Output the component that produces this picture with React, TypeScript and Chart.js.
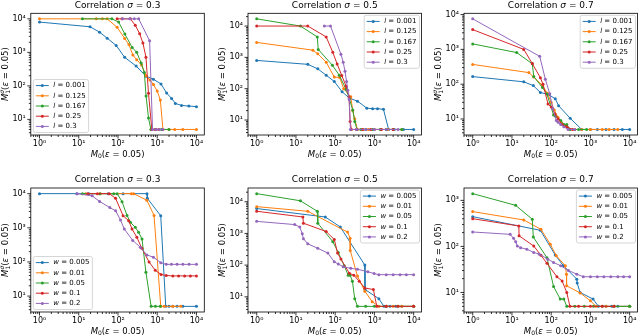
import React, { useEffect, useRef } from "react";
import { Chart, registerables } from "chart.js";
Chart.register(...registerables);

const COLORS = ["#1f77b4", "#ff7f0e", "#2ca02c", "#d62728", "#9467bd"];
const SIGMAS = ["0.3", "0.5", "0.7"];
const L_VALUES = ["0.001", "0.125", "0.167", "0.25", "0.3"];
const W_VALUES = ["0.005", "0.01", "0.05", "0.1", "0.2"];
const SUPERSCRIPTS = ["⁰", "¹", "²", "³", "⁴", "⁵", "⁶"];

// ---- Panel A: sigma 0.3, l ----
const A1_X = [1, 19.4, 34, 53, 90, 148, 290, 516, 800, 1250, 1740, 2330, 2900, 4170, 6400, 10000];
const A1_Y = [8000, 5800, 4000, 2650, 1600, 710, 390, 195, 158, 114, 61, 42, 30, 26, 25, 24];
const A2_X = [1, 28, 40, 53, 95, 148, 190, 240, 300, 400, 520, 650, 800, 1000, 1200, 1400, 2000, 2800, 4500, 10000];
const A2_Y = [10000, 10000, 10000, 10000, 5600, 2600, 1700, 830, 600, 420, 200, 150, 110, 70, 38, 5, 5, 5, 5, 5];
const A3_X = [12.4, 70, 104, 150, 230, 300, 390, 470, 520, 600, 690, 900, 1300, 2000];
const A3_Y = [10000, 10000, 8000, 3500, 1400, 1000, 480, 250, 50, 11, 5, 5, 5, 5];
const A4_X = [95, 127, 207, 276, 357, 432, 516, 600, 730, 900, 1100];
const A4_Y = [10000, 10000, 10000, 6400, 3600, 1900, 720, 60, 5, 5, 5];
const A5_X = [130, 200, 260, 337, 640, 760, 950, 1150, 1400];
const A5_Y = [10000, 10000, 10000, 10000, 2200, 5, 5, 5, 5];

// ---- Panel B: sigma 0.5, l ----
const B1_X = [1, 20, 36, 59, 95, 150, 230, 370, 640, 900, 1200, 1700, 2300, 3200, 5500, 10000];
const B1_Y = [800, 600, 430, 270, 170, 80, 50, 40, 24, 23, 23, 22, 5, 5, 5, 5];
const B2_X = [1, 27, 36, 59, 95, 130, 165, 250, 280, 315, 370, 500, 700, 1000, 1500, 2200, 3000, 5000];
const B2_Y = [3000, 1700, 1300, 700, 235, 230, 100, 55, 20, 11, 5, 5, 5, 5, 5, 5, 5, 5];
const B3_X = [1, 13, 35, 37, 85, 127, 190, 230, 280, 315, 360, 450, 600, 900, 1400, 2000, 3000, 5000];
const B3_Y = [17000, 10000, 4500, 1800, 560, 270, 95, 47, 21, 9, 5, 5, 5, 5, 5, 5, 5, 5];
const B4_X = [1, 20, 59, 87, 112, 147, 190, 225, 240, 260, 350, 500, 800, 1500, 3000];
const B4_Y = [10000, 10000, 4500, 1450, 620, 265, 120, 55, 9, 5, 5, 5, 5, 5, 5];
const B5_X = [53, 76, 140, 160, 178, 195, 210, 228, 245, 350, 600, 1000, 2000, 4000];
const B5_Y = [10000, 10000, 1270, 700, 360, 170, 90, 45, 5, 5, 5, 5, 5, 5];

// ---- Panel C: sigma 0.7, l ----
const C1_X = [1, 20, 35, 53, 87, 127, 155, 305, 600, 1000, 1500, 2500, 4000, 6500, 10000];
const C1_Y = [165, 117, 91, 58, 50, 38, 24, 10.5, 5, 5, 5, 5, 5, 5, 5];
const C2_X = [1, 27, 36, 58, 80, 100, 120, 150, 180, 220, 300, 400, 600, 1000, 2000, 3000, 5000];
const C2_Y = [370, 215, 160, 95, 55, 30, 18, 11, 8, 6.5, 5, 5, 5, 5, 5, 5, 5];
const C3_X = [1, 13.2, 33, 36, 60, 78, 115, 130, 175, 210, 250, 300, 500, 800];
const C3_Y = [1440, 810, 385, 165, 80, 52, 13, 12, 9, 7, 7, 5, 5, 5];
const C4_X = [1, 20, 33, 53, 62, 83, 100, 125, 150, 190, 250, 350];
const C4_Y = [3700, 1000, 390, 154, 100, 27, 22, 14, 10, 7, 6, 5];
const C5_X = [1, 51, 71, 92, 110, 135, 150, 175, 210, 270, 400];
const C5_Y = [7550, 630, 139, 53, 20, 9, 8, 7, 6, 5, 5];

// ---- Panel D: sigma 0.3, w ----
const D1_X = [1, 9, 18, 56, 135, 550, 560, 1230, 1650, 2000, 2500, 3200, 4500, 10000];
const D1_Y = [10000, 10000, 10000, 10000, 10000, 10000, 7300, 2250, 5, 5, 5, 5, 5, 5];
const D2_X = [15, 35, 220, 250, 545, 830, 1230, 1500, 2500, 4000];
const D2_Y = [10000, 10000, 10000, 10000, 6400, 2300, 5, 5, 5, 5];
const D3_X = [12.4, 35, 78, 95, 127, 170, 207, 276, 335, 410, 515, 700, 900, 1200];
const D3_Y = [10000, 10000, 10000, 10000, 5800, 2300, 1450, 1030, 740, 470, 50, 5, 5, 5];
const D4_X = [17, 30, 60, 87, 135, 187, 228, 303, 406, 620, 890, 1250, 1700, 2500, 3500, 5000, 7000, 10000];
const D4_Y = [10000, 10000, 10000, 7300, 2250, 1620, 920, 525, 250, 100, 57, 43, 40, 39, 39, 39, 39, 39];
const D5_X = [9, 22, 34, 62, 87, 116, 145, 238, 370, 545, 800, 1230, 1700, 2300, 3200, 4500, 6500, 10000];
const D5_Y = [10000, 8600, 5900, 3900, 3150, 1700, 920, 425, 270, 160, 138, 95, 85, 85, 85, 85, 85, 85];

// ---- Panel E: sigma 0.5, w ----
const E1_X = [1, 56, 135, 570, 575, 1300, 1750, 2500, 3500, 5000, 10000];
const E1_Y = [6100, 3300, 1600, 100, 17, 8.7, 5, 5, 5, 5, 5];
const E2_X = [1, 20, 207, 240, 242, 370, 570, 880, 1300, 2000, 3000, 5000, 10000];
const E2_Y = [7000, 5000, 1100, 710, 290, 45, 15, 7, 5, 5, 5, 5, 5];
const E3_X = [1, 13, 35, 36, 87, 120, 170, 215, 240, 275, 315, 370, 600, 1000, 2000, 4000, 10000];
const E3_Y = [18000, 10700, 5000, 2100, 550, 250, 95, 48, 48, 31, 8.7, 5, 5, 5, 5, 5, 5];
const E4_X = [1, 15, 15.5, 59, 95, 115, 140, 230, 300, 410, 570, 940, 1150, 2000, 4000, 10000];
const E4_Y = [5000, 3300, 2100, 1150, 640, 240, 155, 55, 48, 31, 19, 17, 5, 5, 5, 5];
const E5_X = [1, 9.3, 12.5, 14.5, 15.5, 20, 36, 65, 95, 120, 160, 250, 370, 680, 980, 1300, 2000, 3000, 4500, 6500, 10000];
const E5_Y = [2400, 1900, 1600, 970, 680, 470, 340, 240, 127, 108, 89, 79, 74, 62, 54, 50, 50, 50, 50, 50, 50];

// ---- Panel F: sigma 0.7, w ----
const F1_X = [1, 53, 127, 205, 450, 460, 545, 1170, 1600, 2500, 3500, 5000, 10000];
const F1_Y = [443, 224, 65, 38, 19.5, 16, 10, 7.2, 5, 5, 5, 5, 5];
const F2_X = [1, 20, 55, 95, 135, 230, 245, 247, 545, 1000, 1400, 2500, 4000, 10000];
const F2_Y = [570, 375, 235, 112, 63, 38, 25, 14, 9.8, 6.6, 5, 5, 5, 5];
const F3_X = [1, 12.4, 33, 35, 78, 115, 170, 210, 250, 400, 700, 1200, 2000, 4000, 10000];
const F3_Y = [1400, 780, 390, 160, 57, 13.5, 7.2, 7.2, 5, 5, 5, 5, 5, 5, 5];
const F4_X = [1, 15, 15.2, 36, 55, 78, 140, 190, 250, 300, 500, 1000, 2000, 4000];
const F4_Y = [400, 278, 170, 102, 64, 43, 22, 17.8, 10, 5, 5, 5, 5, 5];
const F5_X = [1, 9, 11, 12.5, 13.7, 16.6, 24, 36, 50, 82, 115, 175, 275, 450, 660, 1000, 1500, 2200, 3300, 5000, 7000, 10000];
const F5_Y = [206, 183, 150, 126, 102, 94, 87, 74, 68, 53, 45, 38, 30, 25, 22, 22, 22, 22, 22, 22, 22, 22];

const FONT = '"DejaVu Sans", sans-serif';

type Panel = {
  sigma: string;
  varName: string;
  values: string[];
  xs: number[][];
  ys: number[][];
  legend: "ll" | "ur";
  canvas: { x: number; y: number; w: number; h: number };
  area: { l: number; t: number; r: number; b: number };
};

const TOP_ROW = { t: 13.3, b: 135 };
const BOT_ROW = { t: 188, b: 312 };
const COLS = [
  { cx: 0, cw: 215, l: 30.8, r: 204.3 },
  { cx: 215, cw: 213, l: 248, r: 421.5 },
  { cx: 428, cw: 212, l: 464, r: 637.5 },
];

function makePanel(row: number, col: number, varName: string, values: string[], xs: number[][], ys: number[][], legend: "ll" | "ur"): Panel {
  const R = row === 0 ? TOP_ROW : BOT_ROW;
  const C = COLS[col];
  return {
    sigma: SIGMAS[col],
    varName,
    values,
    xs,
    ys,
    legend,
    canvas: { x: C.cx, y: row === 0 ? 0 : 168, w: C.cw, h: row === 0 ? 168 : 167 },
    area: { l: C.l, t: R.t, r: C.r, b: R.b },
  };
}

const PANELS: Panel[] = [
  makePanel(0, 0, "l", L_VALUES, [A1_X, A2_X, A3_X, A4_X, A5_X], [A1_Y, A2_Y, A3_Y, A4_Y, A5_Y], "ll"),
  makePanel(0, 1, "l", L_VALUES, [B1_X, B2_X, B3_X, B4_X, B5_X], [B1_Y, B2_Y, B3_Y, B4_Y, B5_Y], "ur"),
  makePanel(0, 2, "l", L_VALUES, [C1_X, C2_X, C3_X, C4_X, C5_X], [C1_Y, C2_Y, C3_Y, C4_Y, C5_Y], "ur"),
  makePanel(1, 0, "w", W_VALUES, [D1_X, D2_X, D3_X, D4_X, D5_X], [D1_Y, D2_Y, D3_Y, D4_Y, D5_Y], "ll"),
  makePanel(1, 1, "w", W_VALUES, [E1_X, E2_X, E3_X, E4_X, E5_X], [E1_Y, E2_Y, E3_Y, E4_Y, E5_Y], "ur"),
  makePanel(1, 2, "w", W_VALUES, [F1_X, F2_X, F3_X, F4_X, F5_X], [F1_Y, F2_Y, F3_Y, F4_Y, F5_Y], "ur"),
];

const Y_AXIS_W = 24;
const X_AXIS_H = 16;

function logRange(vals: number[]) {
  const lo = Math.log10(Math.min(...vals));
  const hi = Math.log10(Math.max(...vals));
  const m = 0.05 * (hi - lo);
  return { min: Math.pow(10, lo - m), max: Math.pow(10, hi + m) };
}

function isPow10(v: number) {
  const l = Math.log10(v);
  return Math.abs(l - Math.round(l)) < 1e-9;
}

function logTicks(min: number, max: number) {
  const out: { value: number; major: boolean }[] = [];
  const k0 = Math.floor(Math.log10(min));
  const k1 = Math.ceil(Math.log10(max));
  for (let k = k0; k <= k1; k++) {
    for (let d = 1; d <= 9; d++) {
      const v = d * Math.pow(10, k);
      if (v >= min && v <= max) out.push({ value: v, major: d === 1 });
    }
  }
  return out;
}

function tickLabel(v: number) {
  if (!isPow10(v)) return "";
  const e = Math.round(Math.log10(v));
  return "10" + (e >= 0 ? SUPERSCRIPTS[e] : "⁻" + SUPERSCRIPTS[-e]);
}

type Part = { t: string; it?: boolean; s: number; dy?: number; adv?: boolean };

function fontOf(p: Part) {
  return `${p.it ? "italic " : ""}${p.s}px ${FONT}`;
}

function richWidth(ctx: CanvasRenderingContext2D, parts: Part[]) {
  let w = 0;
  let pending = 0;
  for (const p of parts) {
    ctx.font = fontOf(p);
    const pw = ctx.measureText(p.t).width;
    if (p.adv === false) pending = Math.max(pending, pw);
    else {
      w += Math.max(pw, pending);
      pending = 0;
    }
  }
  return w + pending;
}

function drawRich(ctx: CanvasRenderingContext2D, parts: Part[], x0: number, cy: number, align: "center" | "left") {
  const w = richWidth(ctx, parts);
  let x = align === "center" ? x0 - w / 2 : x0;
  let pending = 0;
  ctx.textAlign = "left";
  ctx.textBaseline = "middle";
  for (const p of parts) {
    ctx.font = fontOf(p);
    ctx.fillText(p.t, x, cy + (p.dy || 0));
    const pw = ctx.measureText(p.t).width;
    if (p.adv === false) pending = Math.max(pending, pw);
    else {
      x += Math.max(pw, pending);
      pending = 0;
    }
  }
  return w;
}

function makeDecor(p: Panel, idx: number) {
  return {
    id: "decor" + idx,
    afterDraw(chart: any) {
      const ctx: CanvasRenderingContext2D = chart.ctx;
      const a = chart.chartArea;
      const xs = chart.scales.x;
      const ys = chart.scales.y;
      ctx.save();
      ctx.strokeStyle = "#000";
      ctx.lineWidth = 0.8;
      // tick marks
      ctx.beginPath();
      for (const t of xs.ticks) {
        const px = xs.getPixelForValue(t.value);
        if (px < a.left - 0.5 || px > a.right + 0.5) continue;
        const len = isPow10(t.value) ? 3.5 : 2;
        ctx.moveTo(px, a.bottom);
        ctx.lineTo(px, a.bottom + len);
      }
      for (const t of ys.ticks) {
        const py = ys.getPixelForValue(t.value);
        if (py < a.top - 0.5 || py > a.bottom + 0.5) continue;
        const len = isPow10(t.value) ? 3.5 : 2;
        ctx.moveTo(a.left - len, py);
        ctx.lineTo(a.left, py);
      }
      ctx.stroke();
      // frame
      ctx.strokeRect(a.left, a.top, a.right - a.left, a.bottom - a.top);

      ctx.fillStyle = "#000";
      const cx = (a.left + a.right) / 2;
      const cy = (a.top + a.bottom) / 2;
      // title
      drawRich(
        ctx,
        [
          { t: "Correlation ", s: 9 },
          { t: "σ", s: 9, it: true },
          { t: " = " + p.sigma, s: 9 },
        ],
        cx,
        a.top - 8,
        "center"
      );
      // x label
      drawRich(
        ctx,
        [
          { t: "M", s: 8.5, it: true },
          { t: "0", s: 6, dy: 2.2 },
          { t: "(", s: 8.5 },
          { t: "ε", s: 8.5, it: true },
          { t: " = 0.05)", s: 8.5 },
        ],
        cx,
        a.bottom + 19.5,
        "center"
      );
      // y label
      ctx.save();
      ctx.translate(a.left - 25, cy);
      ctx.rotate(-Math.PI / 2);
      drawRich(
        ctx,
        [
          { t: "M", s: 8.5, it: true },
          { t: "σ", s: 6, it: true, dy: -3.2, adv: false },
          { t: "1", s: 6, dy: 2.4 },
          { t: "(", s: 8.5 },
          { t: "ε", s: 8.5, it: true },
          { t: " = 0.05)", s: 8.5 },
        ],
        0,
        0,
        "center"
      );
      ctx.restore();

      // legend
      const fs = 7;
      const rowH = 10.2;
      const padL = 2.5;
      const handle = 13;
      const gap = 4.5;
      const padR = 3;
      let textW = 0;
      const rows = p.values.map((v) => [
        { t: p.varName, s: fs, it: true },
        { t: " = " + v, s: fs },
      ] as Part[]);
      for (const r of rows) textW = Math.max(textW, richWidth(ctx, r));
      const bw = padL + handle + gap + textW + padR;
      const bh = rows.length * rowH + 2;
      let bx: number, by: number;
      if (p.legend === "ll") {
        bx = a.left + 2.5;
        by = a.bottom - 2.5 - bh;
      } else {
        bx = a.right - 2 - bw;
        by = a.top + 2;
      }
      ctx.beginPath();
      const rr = 2;
      ctx.moveTo(bx + rr, by);
      ctx.lineTo(bx + bw - rr, by);
      ctx.quadraticCurveTo(bx + bw, by, bx + bw, by + rr);
      ctx.lineTo(bx + bw, by + bh - rr);
      ctx.quadraticCurveTo(bx + bw, by + bh, bx + bw - rr, by + bh);
      ctx.lineTo(bx + rr, by + bh);
      ctx.quadraticCurveTo(bx, by + bh, bx, by + bh - rr);
      ctx.lineTo(bx, by + rr);
      ctx.quadraticCurveTo(bx, by, bx + rr, by);
      ctx.closePath();
      ctx.fillStyle = "rgba(255,255,255,0.8)";
      ctx.fill();
      ctx.strokeStyle = "#cccccc";
      ctx.lineWidth = 0.8;
      ctx.stroke();
      const ds = chart.data.datasets;
      rows.forEach((r, i) => {
        const ry = by + 1 + rowH * (i + 0.5);
        const col = ds[i].borderColor;
        ctx.strokeStyle = col;
        ctx.lineWidth = 1;
        ctx.beginPath();
        ctx.moveTo(bx + padL, ry);
        ctx.lineTo(bx + padL + handle, ry);
        ctx.stroke();
        ctx.fillStyle = col;
        ctx.beginPath();
        ctx.arc(bx + padL + handle / 2, ry, 1.5, 0, Math.PI * 2);
        ctx.fill();
        ctx.fillStyle = "#000";
        drawRich(ctx, r, bx + padL + handle + gap, ry, "left");
      });
      ctx.restore();
    },
  };
}

function PanelChart({ panel, idx }: { panel: Panel; idx: number }) {
  const ref = useRef<HTMLCanvasElement>(null);
  useEffect(() => {
    const canvas = ref.current;
    if (!canvas) return;
    const allX = panel.xs.flat();
    const allY = panel.ys.flat();
    const xr = logRange(allX);
    const yr = logRange(allY);
    const c = panel.canvas;
    const a = panel.area;
    const datasets = panel.xs.map((xArr, i) => ({
      label: panel.varName + " = " + panel.values[i],
      data: xArr.map((x, j) => ({ x, y: panel.ys[i][j] })),
      borderColor: COLORS[i],
      backgroundColor: COLORS[i],
      pointBackgroundColor: COLORS[i],
      borderWidth: 1,
      pointRadius: 1.5,
      pointBorderWidth: 0,
      pointHoverRadius: 1.5,
      tension: 0,
      fill: false,
      order: 4 - i,
    }));
    const tickFont = { family: FONT, size: 8 };
    const chart = new Chart(canvas, {
      type: "line",
      data: { datasets },
      plugins: [makeDecor(panel, idx)],
      options: {
        animation: false,
        responsive: false,
        devicePixelRatio: 1,
        events: [],
        layout: {
          padding: {
            left: a.l - c.x - Y_AXIS_W,
            right: c.x + c.w - a.r,
            top: a.t - c.y,
            bottom: c.y + c.h - a.b - X_AXIS_H,
          },
        },
        plugins: {
          legend: { display: false },
          tooltip: { enabled: false },
          title: { display: false },
        },
        scales: {
          x: {
            type: "logarithmic",
            min: xr.min,
            max: xr.max,
            grid: { display: false, drawTicks: true, tickLength: 3.5 },
            border: { display: false },
            afterBuildTicks: (s: any) => {
              s.ticks = logTicks(s.min, s.max);
            },
            afterFit: (s: any) => {
              s.height = X_AXIS_H;
            },
            ticks: {
              autoSkip: false,
              maxRotation: 0,
              minRotation: 0,
              padding: 0.5,
              color: "#000",
              font: tickFont,
              callback: (v: any) => tickLabel(Number(v)),
            },
          },
          y: {
            type: "logarithmic",
            min: yr.min,
            max: yr.max,
            grid: { display: false, drawTicks: true, tickLength: 3.5 },
            border: { display: false },
            afterBuildTicks: (s: any) => {
              s.ticks = logTicks(s.min, s.max);
            },
            afterFit: (s: any) => {
              s.width = Y_AXIS_W;
            },
            ticks: {
              autoSkip: false,
              padding: 1.5,
              color: "#000",
              font: tickFont,
              callback: (v: any) => tickLabel(Number(v)),
            },
          },
        },
      } as any,
    });
    return () => chart.destroy();
  }, [panel, idx]);
  const c = panel.canvas;
  return (
    <canvas
      ref={ref}
      width={c.w}
      height={c.h}
      style={{ position: "absolute", left: c.x, top: c.y, width: c.w, height: c.h }}
    />
  );
}

export default function App() {
  return (
    <div
      style={{
        position: "absolute",
        left: 0,
        top: 0,
        width: 640,
        height: 335,
        background: "#fff",
        overflow: "hidden",
      }}
    >
      {PANELS.map((p, i) => (
        <PanelChart key={i} panel={p} idx={i} />
      ))}
    </div>
  );
}
